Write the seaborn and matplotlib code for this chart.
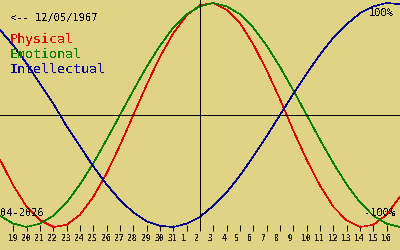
import matplotlib
matplotlib.use("Agg")
import matplotlib.pyplot as plt
from matplotlib.transforms import ScaledTranslation
import seaborn as sns
import pandas as pd

# ---- data ----
birth_label = "<-- 12/05/1967"
month_label = "04-2026"
series_names = ["Physical", "Emotional", "Intellectual"]
# day offsets relative to the marked day (Apr 2), covering Mar 18 .. Apr 17
day_offsets = list(range(-15, 16))
physical = [-0.40, -0.63, -0.82, -0.94, -1.00, -0.98, -0.89, -0.73, -0.52, -0.27,
            0.00, 0.27, 0.52, 0.73, 0.89, 0.98, 1.00, 0.94, 0.82, 0.63,
            0.40, 0.14, -0.14, -0.40, -0.63, -0.82, -0.94, -1.00, -0.98, -0.89, -0.73]
emotional = [-0.90, -0.97, -1.00, -0.97, -0.90, -0.78, -0.62, -0.43, -0.22, 0.00,
             0.22, 0.43, 0.62, 0.78, 0.90, 0.97, 1.00, 0.97, 0.90, 0.78,
             0.62, 0.43, 0.22, 0.00, -0.22, -0.43, -0.62, -0.78, -0.90, -0.97, -1.00]
intellectual = [0.76, 0.62, 0.46, 0.28, 0.10, -0.10, -0.28, -0.46, -0.62, -0.76,
                -0.87, -0.95, -0.99, -1.00, -0.97, -0.91, -0.81, -0.69, -0.54, -0.37,
                -0.19, 0.00, 0.19, 0.37, 0.54, 0.69, 0.81, 0.91, 0.97, 1.00, 0.99]
tick_offsets = list(range(-14, 15))
tick_labels = ["19", "20", "21", "22", "23", "24", "25", "26", "27", "28", "29", "30", "31",
               "1", "2", "3", "4", "5", "6", "7", "8", "9", "10", "11", "12", "13", "14", "15", "16"]
top_label = "100%"
bottom_label = "-100%"

# ---- styling ----
BG = "#e1d386"
colors = {"Physical": "#e00000", "Emotional": "#008000", "Intellectual": "#000090"}

sns.set_style("white", {"axes.facecolor": BG, "figure.facecolor": BG})
plt.rcParams["font.family"] = ["DejaVu Sans Mono"]
plt.rcParams["text.antialiased"] = False

df = pd.DataFrame({
    "day": day_offsets * 3,
    "value": physical + emotional + intellectual,
    "series": [n for n in series_names for _ in day_offsets],
})

W, H = 400, 250
fig = plt.figure(figsize=(4, 2.5), dpi=100)
fig.patch.set_facecolor(BG)
ax = fig.add_axes([0, 19 / H, 1, 231 / H])
ax.set_facecolor(BG)

sns.lineplot(data=df, x="day", y="value", hue="series", palette=colors,
             hue_order=series_names, legend=False, ax=ax, linewidth=0.45,
             antialiased=False)

ax.axhline(0, color="black", lw=0.72, antialiased=False)
ax.axvline(0, color="black", lw=0.72, antialiased=False)

ax.set_xlim(-15, 15)
ax.set_ylim(-1.0357, 1.0268)
for s in ax.spines.values():
    s.set_visible(False)
ax.set_xlabel("")
ax.set_ylabel("")
ax.set_yticks([])
ax.set_xticks(tick_offsets, tick_labels, fontweight="bold", fontsize=5.8)
ax.tick_params(axis="x", direction="in", length=4.3, width=0.72, color="black",
               pad=2.2, bottom=True)
off = ScaledTranslation(-5.5 / 100, 0, fig.dpi_scale_trans)
for lab in ax.get_xticklabels():
    lab.set_horizontalalignment("left")
    lab.set_transform(lab.get_transform() + off)

def ftxt(x, y, s, **kw):
    fig.text(x / W, 1 - y / H, s, va="baseline", **kw)

ftxt(10, 21, birth_label, fontsize=7.5, color="black")
ftxt(10, 43, series_names[0], fontsize=9.5, color=colors["Physical"])
ftxt(10, 58, series_names[1], fontsize=9.5, color=colors["Emotional"])
ftxt(10, 73, series_names[2], fontsize=9.5, color=colors["Intellectual"])
ftxt(0, 216, month_label, fontsize=7.5, color="black")
ftxt(394, 16, top_label, fontsize=7.5, color="black", ha="right")
ftxt(395, 216, bottom_label, fontsize=7.5, color="black", ha="right")

fig.savefig("out.png", dpi=100, facecolor=BG)
